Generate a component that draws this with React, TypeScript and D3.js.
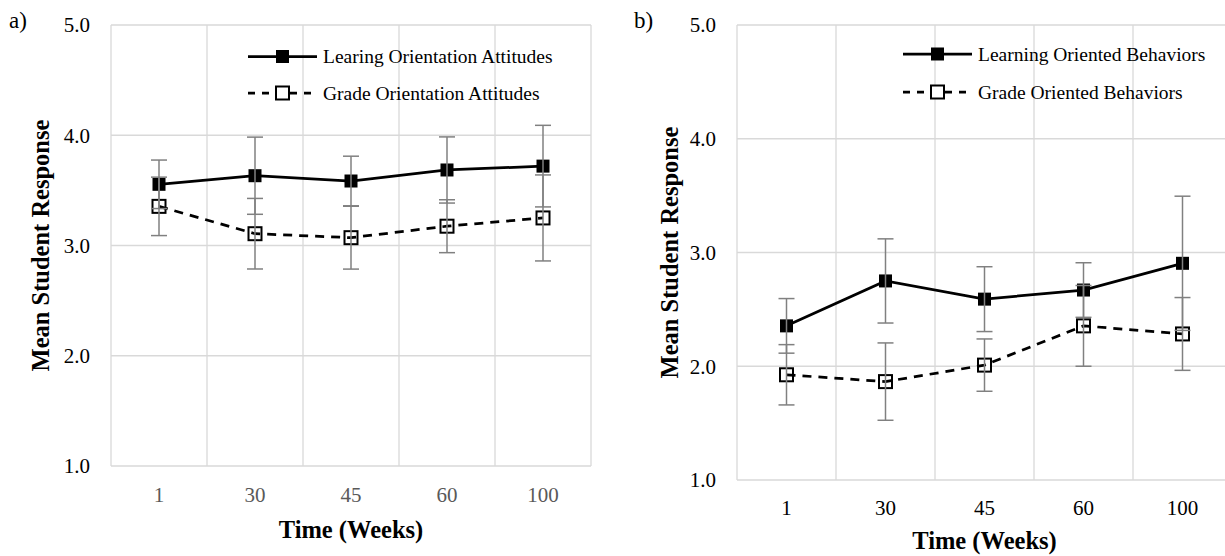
import React from 'react'
import * as d3 from 'd3'

const WEEKS = ['1', '30', '45', '60', '100']
const Y_TICKS = [1, 2, 3, 4, 5]

// panel a) attitudes
const A_LEARN = [3.555, 3.633, 3.585, 3.685, 3.72]
const A_LEARN_ERR = [0.22, 0.35, 0.225, 0.3, 0.37]
const A_GRADE = [3.355, 3.107, 3.071, 3.175, 3.25]
const A_GRADE_ERR = [0.265, 0.32, 0.285, 0.24, 0.39]

// panel b) behaviors
const B_LEARN = [2.355, 2.75, 2.59, 2.67, 2.905]
const B_LEARN_ERR = [0.24, 0.37, 0.285, 0.24, 0.59]
const B_GRADE = [1.925, 1.865, 2.01, 2.355, 2.284]
const B_GRADE_ERR = [0.265, 0.34, 0.23, 0.355, 0.32]

const FONT = '"Liberation Serif", "Times New Roman", serif'
const GRID = '#d9d9d9'
const ERR = '#808080'

type Series = { name: string; values: number[]; err: number[]; filled: boolean }

type PanelProps = {
  tag: string
  tagX: number
  x0: number
  x1: number
  yTop: number
  yBottom: number
  xLabelColor: string
  xLabelY: number
  xTitleY: number
  yTitleX: number
  legendX: number
  legendY: number[]
  series: Series[]
}

function Panel(p: PanelProps) {
  const x = d3.scaleBand<string>().domain(WEEKS).range([p.x0, p.x1])
  const y = d3.scaleLinear().domain([1, 5]).range([p.yBottom, p.yTop])
  const bw = x.bandwidth()
  const cx = (w: string) => (x(w) as number) + bw / 2
  const bounds = [...WEEKS.map((w) => x(w) as number), p.x1]
  const line = d3
    .line<number>()
    .x((_, i) => cx(WEEKS[i]))
    .y((d) => y(d))

  return (
    <g>
      <text x={p.tagX} y={28} fontFamily={FONT} fontSize={23}>
        {p.tag}
      </text>
      {Y_TICKS.map((t) => (
        <line key={'h' + t} x1={p.x0} x2={p.x1} y1={y(t)} y2={y(t)} stroke={GRID} strokeWidth={1.3} />
      ))}
      {bounds.map((b, i) => (
        <line key={'v' + i} x1={b} x2={b} y1={y(5)} y2={y(1)} stroke={GRID} strokeWidth={1.3} />
      ))}
      {Y_TICKS.map((t) => (
        <text
          key={'yt' + t}
          x={p.x0 - 21}
          y={y(t)}
          dy="0.35em"
          textAnchor="end"
          fontFamily={FONT}
          fontSize={21}
          fill="#000"
        >
          {d3.format('.1f')(t)}
        </text>
      ))}
      {WEEKS.map((w) => (
        <text
          key={'xt' + w}
          x={cx(w)}
          y={p.xLabelY}
          dy="0.35em"
          textAnchor="middle"
          fontFamily={FONT}
          fontSize={21}
          fill={p.xLabelColor}
        >
          {w}
        </text>
      ))}
      <text
        x={(p.x0 + p.x1) / 2}
        y={p.xTitleY}
        textAnchor="middle"
        fontFamily={FONT}
        fontWeight="bold"
        fontSize={24.5}
      >
        Time (Weeks)
      </text>
      <text
        transform={`translate(${p.yTitleX},${(p.yTop + p.yBottom) / 2}) rotate(-90)`}
        dy="0.35em"
        textAnchor="middle"
        fontFamily={FONT}
        fontWeight="bold"
        fontSize={24.5}
      >
        Mean Student Response
      </text>

      {p.series.map((s) => (
        <g key={s.name}>
          {s.values.map((v, i) => {
            const px = cx(WEEKS[i])
            const sz = 13
            return (
              <rect
                key={i}
                x={px - sz / 2}
                y={y(v) - sz / 2}
                width={sz}
                height={sz}
                fill={s.filled ? '#000' : '#fff'}
                stroke="#000"
                strokeWidth={s.filled ? 0 : 2}
              />
            )
          })}
          <path
            d={line(s.values) || ''}
            fill="none"
            stroke="#000"
            strokeWidth={2.75}
            strokeDasharray={s.filled ? undefined : '9,7'}
          />
        </g>
      ))}

      {p.series.map((s) =>
        s.values.map((v, i) => {
          const px = cx(WEEKS[i])
          const hi = y(v + s.err[i])
          const lo = y(v - s.err[i])
          return (
            <g key={s.name + 'e' + i} stroke={ERR} strokeWidth={1.5}>
              <line x1={px} x2={px} y1={hi} y2={lo} />
              <line x1={px - 8} x2={px + 8} y1={hi} y2={hi} />
              <line x1={px - 8} x2={px + 8} y1={lo} y2={lo} />
            </g>
          )
        })
      )}

      {p.series.map((s, k) => {
        const ly = p.legendY[k]
        const mx = p.legendX + 34.5
        return (
          <g key={'lg' + k}>
            <line
              x1={p.legendX}
              x2={p.legendX + 69}
              y1={ly}
              y2={ly}
              stroke="#000"
              strokeWidth={2.75}
              strokeDasharray={s.filled ? undefined : '7,7'}
            />
            <rect
              x={mx - 6.5}
              y={ly - 6.5}
              width={13}
              height={13}
              fill={s.filled ? '#000' : '#fff'}
              stroke="#000"
              strokeWidth={s.filled ? 0 : 2}
            />
            <text x={p.legendX + 75} y={ly} dy="0.35em" fontFamily={FONT} fontSize={19.5}>
              {s.name}
            </text>
          </g>
        )
      })}
    </g>
  )
}

export default function App() {
  return (
    <svg
      width={1225}
      height={556}
      style={{ position: 'absolute', left: 0, top: 0, background: '#fff' }}
    >
      <Panel
        tag="a)"
        tagX={9}
        x0={111}
        x1={591}
        yTop={25}
        yBottom={466}
        xLabelColor="#595959"
        xLabelY={495}
        xTitleY={538}
        yTitleX={40}
        legendX={248}
        legendY={[56.5, 93]}
        series={[
          { name: 'Learing Orientation Attitudes', values: A_LEARN, err: A_LEARN_ERR, filled: true },
          { name: 'Grade Orientation Attitudes', values: A_GRADE, err: A_GRADE_ERR, filled: false },
        ]}
      />
      <Panel
        tag="b)"
        tagX={634}
        x0={737}
        x1={1232}
        yTop={25}
        yBottom={480}
        xLabelColor="#000"
        xLabelY={508}
        xTitleY={549}
        yTitleX={669}
        legendX={903}
        legendY={[54, 92]}
        series={[
          { name: 'Learning Oriented Behaviors', values: B_LEARN, err: B_LEARN_ERR, filled: true },
          { name: 'Grade Oriented Behaviors', values: B_GRADE, err: B_GRADE_ERR, filled: false },
        ]}
      />
    </svg>
  )
}
